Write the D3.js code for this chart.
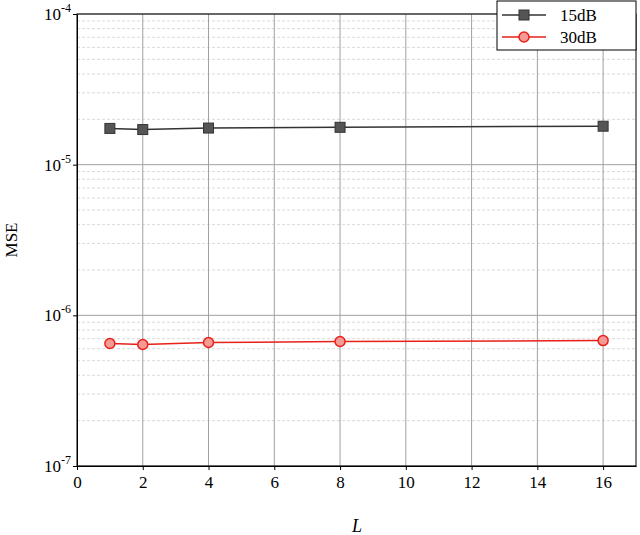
<!DOCTYPE html><html><head><script src="https://d3js.org/d3.v7.min.js"></script>
<style>body{margin:0;background:#fff}text{font-family:"Liberation Serif","Times New Roman",serif}</style></head><body>
<script>
const xVals=[1,2,4,8,16];
const s15=[1.74e-5,1.71e-5,1.75e-5,1.77e-5,1.80e-5];
const s30=[6.5e-7,6.4e-7,6.6e-7,6.7e-7,6.8e-7];
const xTicks=[0,2,4,6,8,10,12,14,16];
const yTicks=[1e-7,1e-6,1e-5,1e-4];
const W=640,H=535,m={l:77,r:4,t:14,b:69};
const svg=d3.select("body").append("svg").attr("width",W).attr("height",H);
const x=d3.scaleLinear().domain([0,17]).range([m.l,W-m.r]);
const y=d3.scaleLog().domain([1e-7,1e-4]).range([H-m.b,m.t]);
const g=svg.append("g");
// minor grid
for(let e=-7;e<-4;e++)for(let k=2;k<10;k++){const v=k*Math.pow(10,e);
g.append("line").attr("x1",x(0)).attr("x2",x(17)).attr("y1",y(v)).attr("y2",y(v)).attr("stroke","#d0d0d0").attr("stroke-dasharray","3,2").attr("stroke-width",0.8);}
yTicks.forEach(v=>g.append("line").attr("x1",x(0)).attr("x2",x(17)).attr("y1",y(v)).attr("y2",y(v)).attr("stroke","#a0a0a0"));
xTicks.slice(1).forEach(v=>g.append("line").attr("x1",x(v)).attr("x2",x(v)).attr("y1",y(1e-7)).attr("y2",y(1e-4)).attr("stroke","#a0a0a0"));
svg.append("rect").attr("x",x(0)).attr("y",y(1e-4)).attr("width",x(17)-x(0)).attr("height",y(1e-7)-y(1e-4)).attr("fill","none").attr("stroke","#000");
const xa=svg.append("g").attr("transform",`translate(0,${y(1e-7)})`).call(d3.axisBottom(x).tickValues(xTicks).tickSizeInner(4).tickSizeOuter(0));
xa.selectAll("text").attr("font-size",17).style("font-family","Liberation Serif").attr("dy","0.9em");
const ya=svg.append("g").attr("transform",`translate(${x(0)},0)`).call(d3.axisLeft(y).tickValues(yTicks).tickFormat(()=>"").tickSizeInner(4).tickSizeOuter(0));
yTicks.forEach(v=>{const t=svg.append("text").attr("x",x(0)-6).attr("y",y(v)+6).attr("text-anchor","end").attr("font-size",17);
t.append("tspan").text("10");t.append("tspan").attr("dy",-8).attr("font-size",12).text(Math.round(Math.log10(v)));});
svg.append("text").attr("x",357).attr("y",532).attr("text-anchor","middle").attr("font-size",18).attr("font-style","italic").text("L");
svg.append("text").attr("transform","translate(17,240) rotate(-90)").attr("text-anchor","middle").attr("font-size",17).text("MSE");
const line=d3.line().x((d,i)=>x(xVals[i])).y(d=>y(d));
svg.append("path").datum(s15).attr("d",line).attr("fill","none").attr("stroke","#333").attr("stroke-width",1.5);
svg.selectAll(".sq").data(s15).join("rect").attr("x",(d,i)=>x(xVals[i])-5).attr("y",d=>y(d)-5).attr("width",10).attr("height",10).attr("fill","#555").attr("stroke","#333");
svg.append("path").datum(s30).attr("d",line).attr("fill","none").attr("stroke","#e8201a").attr("stroke-width",1.5);
svg.selectAll(".ci").data(s30).join("circle").attr("cx",(d,i)=>x(xVals[i])).attr("cy",d=>y(d)).attr("r",5).attr("fill","#f79a96").attr("stroke","#e8201a").attr("stroke-width",1.5);
// legend
const L=svg.append("g");
L.append("rect").attr("x",497).attr("y",1).attr("width",139).attr("height",49).attr("fill","#fff").attr("stroke","#000");
L.append("line").attr("x1",502).attr("x2",546).attr("y1",15).attr("y2",15).attr("stroke","#333").attr("stroke-width",1.5);
L.append("rect").attr("x",519).attr("y",10).attr("width",10).attr("height",10).attr("fill","#555").attr("stroke","#333");
L.append("text").attr("x",560).attr("y",21).attr("font-size",17).text("15dB");
L.append("line").attr("x1",502).attr("x2",546).attr("y1",37).attr("y2",37).attr("stroke","#e8201a").attr("stroke-width",1.5);
L.append("circle").attr("cx",524).attr("cy",37).attr("r",5).attr("fill","#f79a96").attr("stroke","#e8201a").attr("stroke-width",1.5);
L.append("text").attr("x",560).attr("y",43).attr("font-size",17).text("30dB");
</script></body></html>
